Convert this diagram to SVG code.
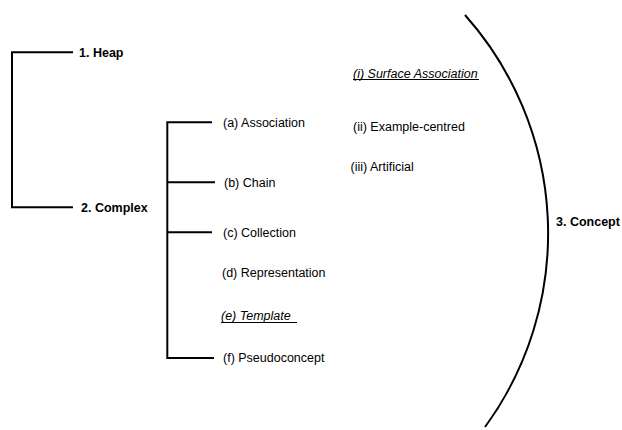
<svg xmlns="http://www.w3.org/2000/svg" width="622" height="430" viewBox="0 0 622 430">
<style>
text{font-family:"Liberation Sans",Arial,sans-serif;font-size:12.5px;fill:#000}
.b{font-weight:bold}
.i{font-style:italic}
.c{stroke:#000;stroke-width:2;fill:none}
.u{stroke:#000;stroke-width:1}
</style>
<rect width="622" height="430" fill="#fff"/>
<g id="connectors">
<path class="c" d="M73,52.3 H12 V207.3 H73"/>
<path class="c" d="M212,122.3 H167.3 V358 H214"/>
<line class="c" x1="167.3" y1="182.3" x2="215" y2="182.3"/>
<line class="c" x1="167.3" y1="232.3" x2="212" y2="232.3"/>
<path class="c" d="M465,15 A328.5,328.5 0 0 1 485,427"/>
</g>
<g id="heap"><text class="b" x="79" y="56.5">1. Heap</text></g>
<g id="complex"><text class="b" x="81" y="211.8">2. Complex</text></g>
<g id="concept"><text class="b" x="556" y="226">3. Concept</text></g>
<g id="association"><text x="223" y="126.7">(a) Association</text></g>
<g id="chain"><text x="224" y="186.6">(b) Chain</text></g>
<g id="collection"><text x="223" y="236.6">(c) Collection</text></g>
<g id="representation"><text x="222" y="277.3">(d) Representation</text></g>
<g id="template"><text class="i" x="221" y="320.3">(e) Template</text><line class="u" x1="221" y1="322.5" x2="297" y2="322.5"/></g>
<g id="pseudoconcept"><text x="223" y="362.4">(f) Pseudoconcept</text></g>
<g id="surface-association"><text class="i" x="353" y="77.5">(i) Surface Association</text><line class="u" x1="353" y1="79.5" x2="479" y2="79.5"/></g>
<g id="example-centred"><text x="353" y="131">(ii) Example-centred</text></g>
<g id="artificial"><text x="350.5" y="171">(iii) Artificial</text></g>
</svg>
